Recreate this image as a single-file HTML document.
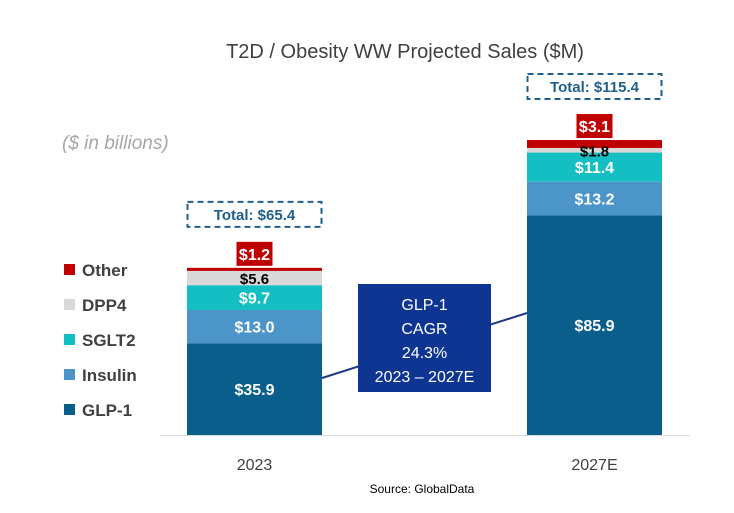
<!DOCTYPE html>
<html><head><meta charset="utf-8"><style>
body{margin:0;background:#fff;width:734px;height:513px;overflow:hidden}
svg{display:block;font-family:"Liberation Sans",sans-serif}
</style></head><body>
<svg id="c" width="734" height="513">
<text x="405" y="58" text-anchor="middle" font-size="20" fill="#404040">T2D / Obesity WW Projected Sales ($M)</text>
<text x="62" y="149" font-size="19" font-style="italic" fill="#a6a6a6">($ in billions)</text>
<line x1="160" y1="435.5" x2="690" y2="435.5" stroke="#d9d9d9"/>
<line x1="322" y1="378" x2="527" y2="313" stroke="#1f3a8a" stroke-width="2"/>
<g id="bars"></g>
<g id="legend"></g>
<text x="422" y="493" text-anchor="middle" font-size="12" fill="#000">Source: GlobalData</text>
</svg>
<script>
const categories=["2023","2027E"];
const seriesNames=["GLP-1","Insulin","SGLT2","DPP4","Other"];
const glp1=[35.9,85.9];
const insulin=[13.0,13.2];
const sglt2=[9.7,11.4];
const dpp4=[5.6,1.8];
const other=[1.2,3.1];
const totals=[65.4,115.4];
const colors=["#0a5e8c","#4b95c8","#14bfc4","#d9d9d9","#c00000"];
const series=[glp1,insulin,sglt2,dpp4,other];
const NS="http://www.w3.org/2000/svg";
const base=435,scale=2.556,barW=135;
const y=v=>base-v*scale;
const xc=i=>254.5+i*340;
function mk(t,a,p){const e=document.createElementNS(NS,t);for(const k in a)e.setAttribute(k,a[k]);p.appendChild(e);return e;}
const g=document.getElementById('bars');
categories.forEach((c,i)=>{
  let cum=0;
  series.forEach((s,k)=>{
    const v=s[i];
    const r=mk('rect',{x:xc(i)-barW/2,y:y(cum+v),width:barW,height:v*scale,fill:colors[k]},g);
    
    
    const mid=y(cum+v/2);
    if(k<3){
      const t=mk('text',{x:xc(i),y:mid+6,'text-anchor':'middle','font-size':16,'font-weight':'bold',fill:'#fff'},g);
      t.textContent='$'+v.toFixed(1);
      
      
    }
    cum+=v;
  });
  // DPP4 label
  const dTop=y(glp1[i]+insulin[i]+sglt2[i]+dpp4[i]);
  const dBot=y(glp1[i]+insulin[i]+sglt2[i]);
  const td=mk('text',{x:xc(i),y:(dTop+dBot)/2+6,'text-anchor':'middle','font-size':15,'font-weight':'bold',fill:'#000'},g);
  td.textContent='$'+dpp4[i].toFixed(1);
  
  
  // Other label box
  const top=y(totals[i]);
  const ob=mk('rect',{x:xc(i)-18,y:top-26,width:36,height:24,fill:'#c00000'},g);
  
  
  const to=mk('text',{x:xc(i),y:top-8,'text-anchor':'middle','font-size':16,'font-weight':'bold',fill:'#fff'},g);
  to.textContent='$'+other[i].toFixed(1);
  
  
  // total box
  const tb=mk('rect',{x:xc(i)-67,y:top-66,width:134,height:25,fill:'none',stroke:'#1f5f8b','stroke-width':2,'stroke-dasharray':'6,4'},g);
  
  
  const tt=mk('text',{x:xc(i),y:top-48,'text-anchor':'middle','font-size':15,'font-weight':'bold',fill:'#1f5f8b'},g);
  tt.textContent='Total: $'+totals[i].toFixed(1);
  
  
  const xl=mk('text',{x:xc(i),y:470,'text-anchor':'middle','font-size':16,fill:'#404040'},g);
  xl.textContent=c;
  
  
});
// CAGR box
const cb=mk('rect',{x:358,y:284,width:133,height:108,fill:'#0d3591'},g);


["GLP-1","CAGR","24.3%","2023 \u2013 2027E"].forEach((s,j)=>{
  const t=mk('text',{x:424.5,y:310+j*24,'text-anchor':'middle','font-size':16,fill:'#fff'},g);
  t.textContent=s;
  
  
});
const lg=document.getElementById('legend');
for(let k=4;k>=0;k--){
  const row=4-k, cy=269+row*35;
  const s=mk('rect',{x:64,y:cy-5,width:11,height:11,fill:colors[k]},lg);
  
  
  const t=mk('text',{x:82,y:cy+7,'font-size':17,'font-weight':'bold',fill:'#404040'},lg);
  t.textContent=seriesNames[k];
  
  
}
</script>
</body></html>
